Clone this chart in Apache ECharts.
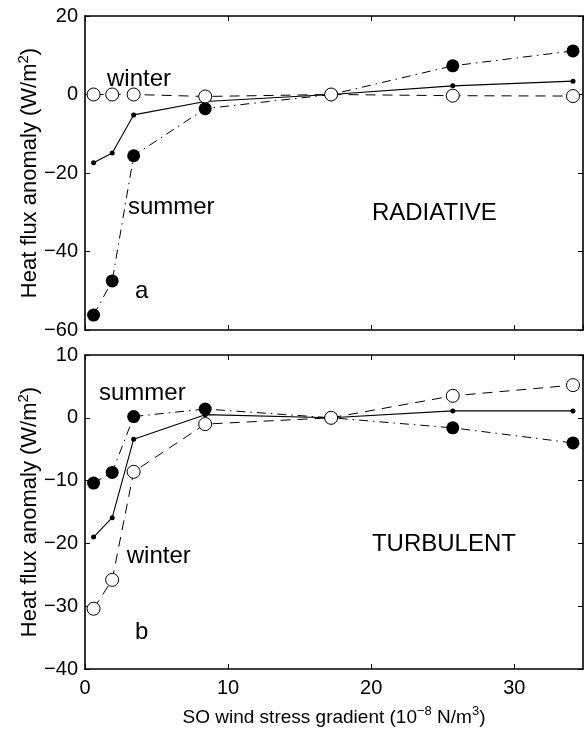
<!DOCTYPE html>
<html>
<head>
<meta charset="utf-8">
<script src="https://cdn.jsdelivr.net/npm/echarts@6/dist/echarts.min.js"></script>
<style>
html,body{margin:0;padding:0;background:#fff;}
#c{width:584px;height:730px;}
</style>
</head>
<body>
<div id="c"></div>
<script>
// ---- data ----
var windStress = [0.6, 1.9, 3.4, 8.4, 17.2, 25.7, 34.1];

var radMean   = [-17.4, -14.9, -5.2, -1.8, 0, 2.2, 3.4];
var radSummer = [-56.2, -47.5, -15.6, -3.6, 0, 7.3, 11.1];
var radWinter = [0, 0, 0, -0.5, 0, -0.3, -0.4];

var turbMean   = [-19.0, -15.9, -3.4, 0.5, 0, 1.1, 1.1];
var turbSummer = [-10.4, -8.7, 0.2, 1.4, 0, -1.6, -4.0];
var turbWinter = [-30.4, -25.8, -8.6, -1.0, 0, 3.5, 5.2];

var xTicks = [0, 10, 20, 30];
var radTicks = [-60, -40, -20, 0, 20];
var turbTicks = [-40, -30, -20, -10, 0, 10];

// annotations: [text, x, y] in data units
var radNotes  = [["winter", 1.54, 3.95], ["summer", 3.0, -28.8], ["a", 3.5, -50.1], ["RADIATIVE", 20.05, -30.4]];
var turbNotes = [["summer", 0.98, 3.9], ["winter", 2.92, -22.0], ["b", 3.5, -34.1], ["TURBULENT", 20.05, -20.1]];

// ---- chart ----
var FONT = '"Liberation Sans", Arial, Helvetica, sans-serif';
function zip(xs, ys){ return xs.map(function(x,i){ return [x, ys[i]]; }); }

var xMin = xTicks[0], xMax = 34.8, xInt = xTicks[1]-xTicks[0];

function xAx(grid, pos, labels, name){
  var a = {
    type:'value', gridIndex:grid, position:pos, min:xMin, max:xMax, interval:xInt,
    axisLine:{show:true, onZero:false, lineStyle:{color:'#000', width:1.6}},
    axisTick:{show:true, inside:true, length:5, lineStyle:{color:'#000', width:1}},
    axisLabel:{show:labels, color:'#000', fontFamily:FONT, fontSize:20, margin:9, showMaxLabel:false},
    splitLine:{show:false}
  };
  if (name){
    a.name = name; a.nameLocation='middle'; a.nameGap=36; a.nameMoveOverlap=false;
    a.nameTextStyle = {color:'#000', fontFamily:FONT, fontSize:19,
      rich:{
        base:{fontSize:19, fontFamily:FONT, color:'#000', verticalAlign:'bottom'},
        sup:{fontSize:13, fontFamily:FONT, color:'#000', verticalAlign:'bottom', padding:[0,0,9,0]}
      }};
  }
  return a;
}
function yAx(grid, pos, ticks, labels, name){
  var a = {
    type:'value', gridIndex:grid, position:pos, min:ticks[0], max:ticks[ticks.length-1], interval:ticks[1]-ticks[0],
    axisLine:{show:true, onZero:false, lineStyle:{color:'#000', width:1.6}},
    axisTick:{show:true, inside:true, length:5, lineStyle:{color:'#000', width:1}},
    axisLabel:{show:labels, color:'#000', fontFamily:FONT, fontSize:20, margin:7,
      formatter:function(v){ return v<0 ? '\u2212'+Math.abs(v) : String(v); }},
    splitLine:{show:false}
  };
  if (name){
    a.name = name; a.nameLocation='middle'; a.nameGap=44; a.nameMoveOverlap=false;
    a.nameTextStyle = {color:'#000', fontFamily:FONT, fontSize:22,
      rich:{
        base:{fontSize:22, fontFamily:FONT, color:'#000', verticalAlign:'bottom'},
        sup:{fontSize:15, fontFamily:FONT, color:'#000', verticalAlign:'bottom', padding:[0,0,10,0]}
      }};
  }
  return a;
}

var dashDot = [9, 5, 1.5, 5];
var dashed = [10, 7];

function trio(xi, yi, mean, summer, winter){
  return [
    {type:'line', xAxisIndex:xi, yAxisIndex:yi, data:zip(windStress, mean),
     symbol:'circle', symbolSize:5, itemStyle:{color:'#000'},
     lineStyle:{color:'#000', width:1.1, type:'solid'}, z:2},
    {type:'line', xAxisIndex:xi, yAxisIndex:yi, data:zip(windStress, summer),
     symbol:'circle', symbolSize:13, itemStyle:{color:'#000'},
     lineStyle:{color:'#000', width:1, type:dashDot}, z:3},
    {type:'line', xAxisIndex:xi, yAxisIndex:yi, data:zip(windStress, winter),
     symbol:'circle', symbolSize:13, itemStyle:{color:'#fff', borderColor:'#000', borderWidth:1},
     lineStyle:{color:'#000', width:1, type:dashed}, z:4}
  ];
}
function notes(xi, yi, arr){
  return {type:'scatter', xAxisIndex:xi, yAxisIndex:yi, symbolSize:0, z:5,
    itemStyle:{opacity:1},
    data: arr.map(function(n){ return {name:n[0], value:[n[1], n[2]]}; }),
    label:{show:true, position:'right', distance:0, formatter:'{b}', color:'#000',
      textBorderWidth:0, fontFamily:FONT, fontSize:24}};
}

var chart = echarts.init(document.getElementById('c'), null, {renderer:'canvas'});
chart.setOption({
  animation:false,
  backgroundColor:'#fff',
  grid:[
    {left:85, right:1, top:16, height:314},
    {left:85, right:1, top:355, height:314}
  ],
  xAxis:[
    xAx(0,'bottom',false),
    xAx(0,'top',false),
    xAx(1,'bottom',true,'{base|SO wind stress gradient (10}{sup|\u22128}{base| N/m}{sup|3}{base|)}'),
    xAx(1,'top',false)
  ],
  yAxis:[
    yAx(0,'left',radTicks,true,'{base|Heat flux anomaly (W/m}{sup|2}{base|)}'),
    yAx(0,'right',radTicks,false),
    yAx(1,'left',turbTicks,true,'{base|Heat flux anomaly (W/m}{sup|2}{base|)}'),
    yAx(1,'right',turbTicks,false)
  ],
  series: [].concat(
    trio(0,0,radMean,radSummer,radWinter),
    [notes(0,0,radNotes)],
    trio(2,2,turbMean,turbSummer,turbWinter),
    [notes(2,2,turbNotes)]
  )
});
</script>
</body>
</html>
